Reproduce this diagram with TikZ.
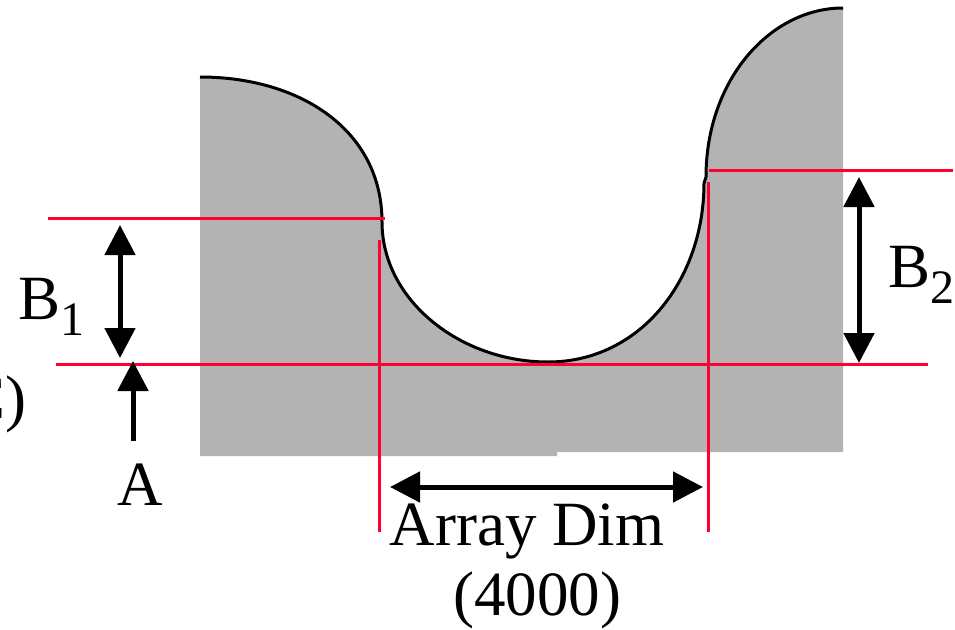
\documentclass[tikz,border=0pt]{standalone}
\usepackage{fontspec}
\setmainfont{Liberation Serif}
\definecolor{guidered}{HTML}{FF0033}
\definecolor{bodygray}{HTML}{B3B3B3}
\usetikzlibrary{positioning,arrows.meta}
\newcommand{\lowsub}[1]{\raisebox{-0.26em}{\fontsize{48}{48}\selectfont #1}}

\begin{document}
\begin{tikzpicture}[
    x=1pt,y=-1pt,
    body/.style={fill=bodygray,draw=none},
    outline/.style={draw=black,line width=3pt},
    guide/.style={guidered,line width=3pt},
    dim/.style={{Triangle[width=30pt,length=30pt]}-{Triangle[width=30pt,length=30pt]},line width=5pt},
    single/.style={-{Triangle[width=30pt,length=30pt]},line width=5pt},
    lbl/.style={font=\fontsize{63}{70}\selectfont,inner sep=0pt}
  ]
    \useasboundingbox (0,0) rectangle (955,629);
    % Gray profile
    \fill[body] (200,456) -- (200,77) .. controls (300,77) and (382,130) .. (382,222)
      .. controls (382,300) and (460,362) .. (548,362)
      .. controls (640,362) and (704,280) .. (704,183) -- (706,177)
      .. controls (706,80) and (770,8) .. (843,8)
      -- (843,452) -- (557,452) -- (557,456) -- cycle;
    \draw[outline] (200,77) .. controls (300,77) and (382,130) .. (382,222)
      .. controls (382,300) and (460,362) .. (548,362)
      .. controls (640,362) and (704,280) .. (704,183) -- (706,177)
      .. controls (706,80) and (770,8) .. (843,8);
    % Guide lines
    \coordinate (g1a) at (48,218);   \coordinate (g1b) at (385,218);
    \coordinate (g2a) at (56,364);   \coordinate (g2b) at (928,364);
    \coordinate (g3a) at (709,170);  \coordinate (g3b) at (953,170);
    \coordinate (v1a) at (379,240);  \coordinate (v1b) at (379,532);
    \coordinate (v2a) at (708,182);  \coordinate (v2b) at (708,532);
    \foreach \a/\b in {g1a/g1b, g2a/g2b, g3a/g3b, v1a/v1b, v2a/v2b}
      \draw[guide] (\a) -- (\b);
    % Dimension arrows
    \coordinate (b1top) at (120,225);  \coordinate (b1bot) at (120,358);
    \coordinate (atail) at (133,441);  \coordinate (atip) at (133,361);
    \coordinate (b2top) at (859,177);  \coordinate (b2bot) at (859,363);
    \coordinate (arrl) at (390,487);   \coordinate (arrr) at (703,487);
    \draw[dim] (b1top) -- (b1bot);
    \draw[single] (atail) -- (atip);
    \draw[dim] (b2top) -- (b2bot);
    \draw[dim] (arrl) -- (arrr);
    % Labels
    \node[lbl,anchor=base west] (b1) at (18,319) {B\lowsub{1}};
    \node[lbl,anchor=base] (a) at (140,505) {A};
    \node[lbl,anchor=base west] (b2) at (888,287) {B\lowsub{2}};
    \node[lbl,anchor=base] (dimlbl) at (527,545) {Array Dim};
    \node[lbl,anchor=base] (dimval) at (537,615) {(4000)};
    \node[lbl,anchor=base east] (cut) at (27,419) {(C)};
\end{tikzpicture}
\end{document}
